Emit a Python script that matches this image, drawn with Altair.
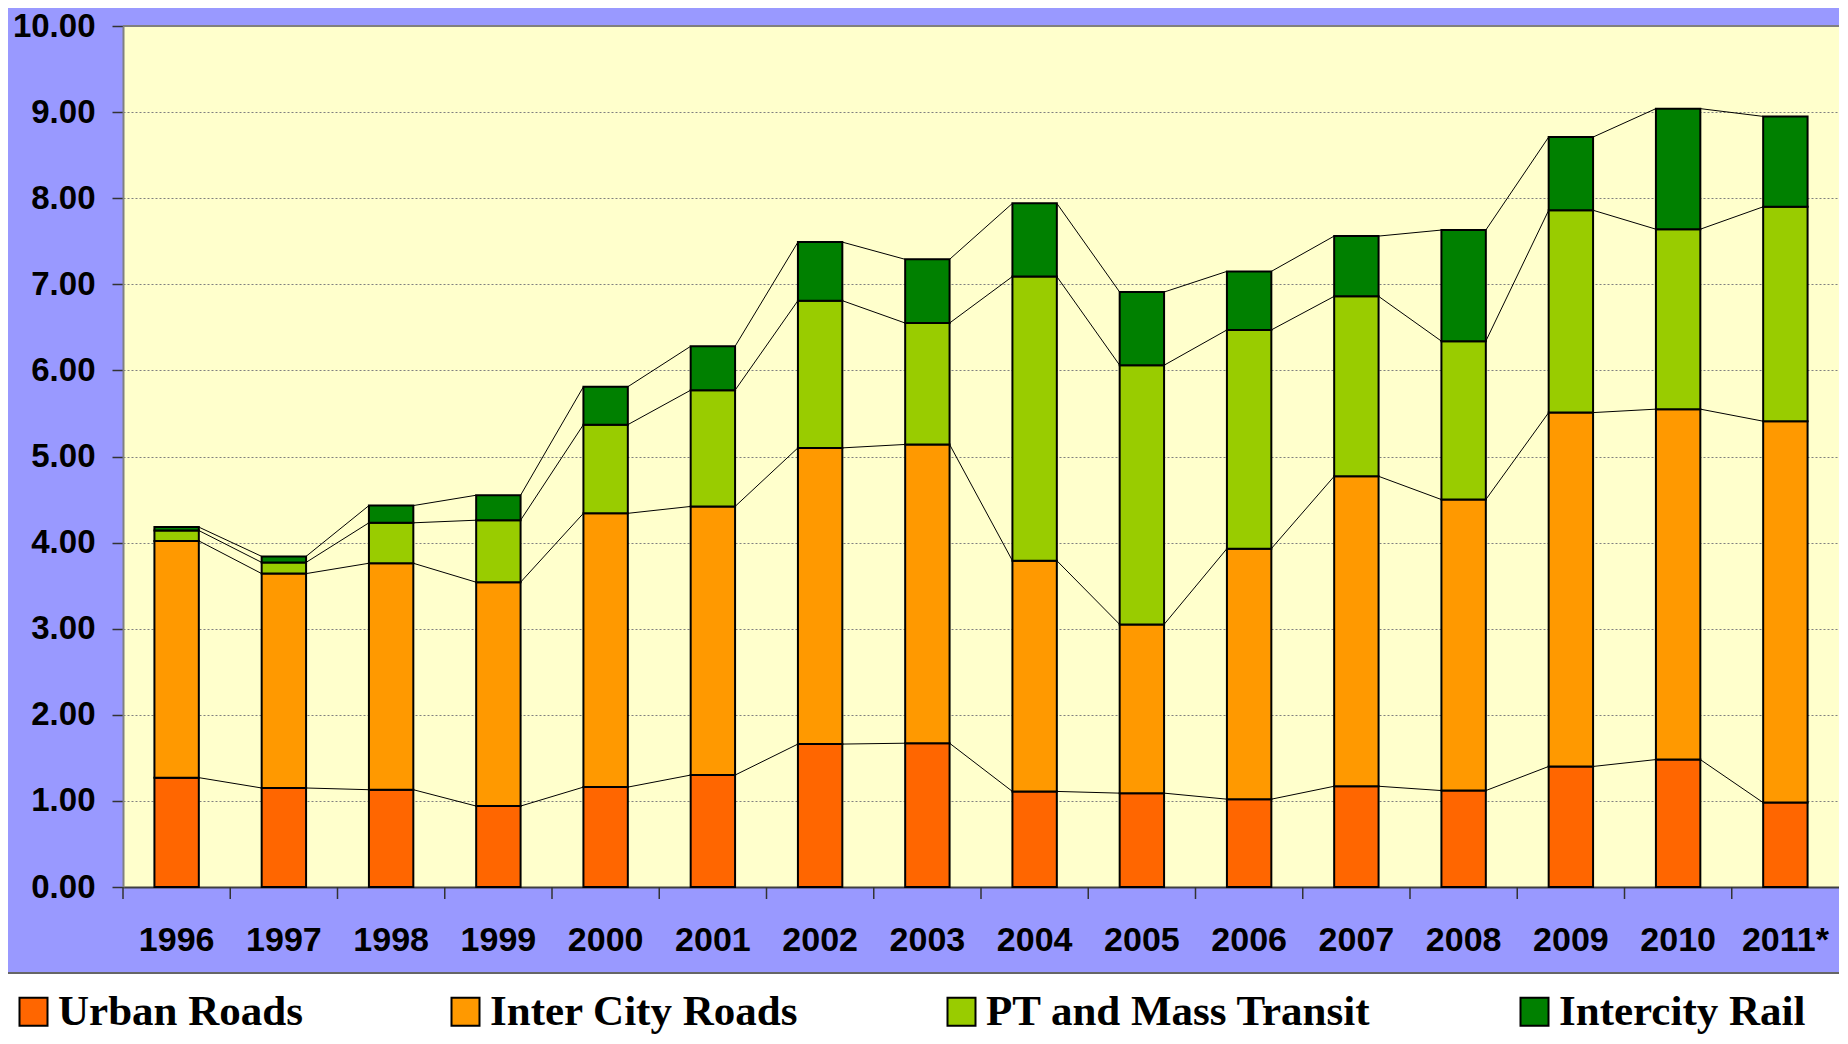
import altair as alt
import pandas as pd

years = ["1996", "1997", "1998", "1999", "2000", "2001", "2002", "2003",
         "2004", "2005", "2006", "2007", "2008", "2009", "2010", "2011*"]
series_names = ["Urban Roads", "Inter City Roads", "PT and Mass Transit", "Intercity Rail"]
series_colors = ["#FF6600", "#FF9900", "#99CC00", "#008000"]

urban_roads = [1.27, 1.15, 1.13, 0.94, 1.16, 1.30, 1.66, 1.67, 1.11, 1.09, 1.02, 1.17, 1.12, 1.40, 1.48, 0.98]
inter_city_roads = [2.75, 2.49, 2.63, 2.60, 3.18, 3.12, 3.44, 3.47, 2.68, 1.96, 2.91, 3.60, 3.38, 4.11, 4.07, 4.43]
pt_mass_transit = [0.12, 0.13, 0.47, 0.72, 1.03, 1.35, 1.71, 1.41, 3.30, 3.01, 2.54, 2.09, 1.84, 2.35, 2.09, 2.49]
intercity_rail = [0.04, 0.07, 0.20, 0.29, 0.44, 0.51, 0.68, 0.74, 0.85, 0.85, 0.68, 0.70, 1.29, 0.85, 1.40, 1.05]

y_ticks = [0, 1, 2, 3, 4, 5, 6, 7, 8, 9, 10]

all_series = [urban_roads, inter_city_roads, pt_mass_transit, intercity_rail]

# long table for stacked bars
rows = []
for k, (name, vals) in enumerate(zip(series_names, all_series)):
    for yr, v in zip(years, vals):
        rows.append({"year": yr, "series": name, "value": v, "order": k})
bars_df = pd.DataFrame(rows)

# series lines joining stack boundaries between neighbouring bars
cum = []
running = [0.0] * len(years)
for vals in all_series:
    running = [r + v for r, v in zip(running, vals)]
    cum.append(list(running))
line_rows = []
for k, c in enumerate(cum):
    for i in range(len(years) - 1):
        line_rows.append({"year": years[i], "next": years[i + 1], "y": c[i], "y2": c[i + 1], "k": k})
lines_df = pd.DataFrame(line_rows)
ticks_df = pd.DataFrame({"year": years})

W, H = 1716, 861

x_scale = alt.Scale(domain=years, paddingInner=0, paddingOuter=0)
y_scale = alt.Scale(domain=[0, 10], nice=False)

x_axis = alt.Axis(
    title=None, labelAngle=0, ticks=False,
    domainColor="#404040", domainWidth=2, labelFont="Liberation Sans", labelFontWeight="bold",
    labelFontSize=34, labelColor="black", labelPadding=36, grid=False,
)
y_axis = alt.Axis(
    title=None, values=y_ticks, format=".2f", tickSize=11, tickColor="#333333", tickWidth=1.5,
    domainColor="#808080", domainWidth=2, labelFont="Liberation Sans", labelFontWeight="bold",
    labelFontSize=33, labelColor="black", labelPadding=17, grid=True, gridColor="#808080",
    gridDash=[2, 2], gridWidth=1,
)

dummy = pd.DataFrame({"a": [0]})

white_band = alt.Chart(dummy).mark_rect(color="white").encode(
    x=alt.value(-130), x2=alt.value(W + 30), y=alt.value(948), y2=alt.value(H + 200)
)
bottom_border = alt.Chart(dummy).mark_rule(color="#666666", strokeWidth=2).encode(
    x=alt.value(-130), x2=alt.value(W + 30), y=alt.value(947)
)
top_border = alt.Chart(dummy).mark_rule(color="#808080", strokeWidth=2).encode(
    x=alt.value(0), x2=alt.value(W + 30), y=alt.value(0)
)

x_ticks = alt.Chart(ticks_df).mark_rule(color="#333333", strokeWidth=1.5).encode(
    x=alt.X("year:N", scale=x_scale, bandPosition=0, axis=x_axis),
    y=alt.value(H), y2=alt.value(H + 12),
)

bars = alt.Chart(bars_df).mark_bar(
    width=alt.RelativeBandSize(0.414), stroke="black", strokeWidth=2
).encode(
    x=alt.X("year:N", scale=x_scale, axis=x_axis, sort=years),
    y=alt.Y("value:Q", stack="zero", scale=y_scale, axis=y_axis),
    color=alt.Color(
        "series:N",
        scale=alt.Scale(domain=series_names, range=series_colors),
        legend=alt.Legend(
            orient="none", legendX=-111, legendY=964, direction="horizontal", columns=4,
            title=None, symbolType="square", symbolSize=784, symbolStrokeColor="black",
            symbolStrokeWidth=2, symbolOpacity=1, labelFont="Liberation Serif",
            labelFontWeight="bold", labelFontSize=43, labelColor="black", labelLimit=1000,
            labelOffset=3, columnPadding=141, padding=0,
        ),
    ),
    order=alt.Order("order:Q", sort="ascending"),
)

series_lines = alt.Chart(lines_df).mark_rule(color="black", strokeWidth=1).encode(
    x=alt.X("year:N", scale=x_scale, bandPosition=0.707),
    x2=alt.X2("next:N", bandPosition=0.293),
    y=alt.Y("y:Q", scale=y_scale),
    y2=alt.Y2("y2:Q"),
)

chart = alt.layer(white_band, bottom_border, top_border, x_ticks, series_lines, bars).properties(
    width=W, height=H,
    background="#9999FF",
    padding={"left": 115, "top": 18, "right": 0, "bottom": 149},
    autosize=alt.AutoSizeParams(type="none"),
).configure_view(fill="#FFFFCC", stroke=None)

chart.save("out.html", embed_options={"renderer": "svg", "actions": False})
